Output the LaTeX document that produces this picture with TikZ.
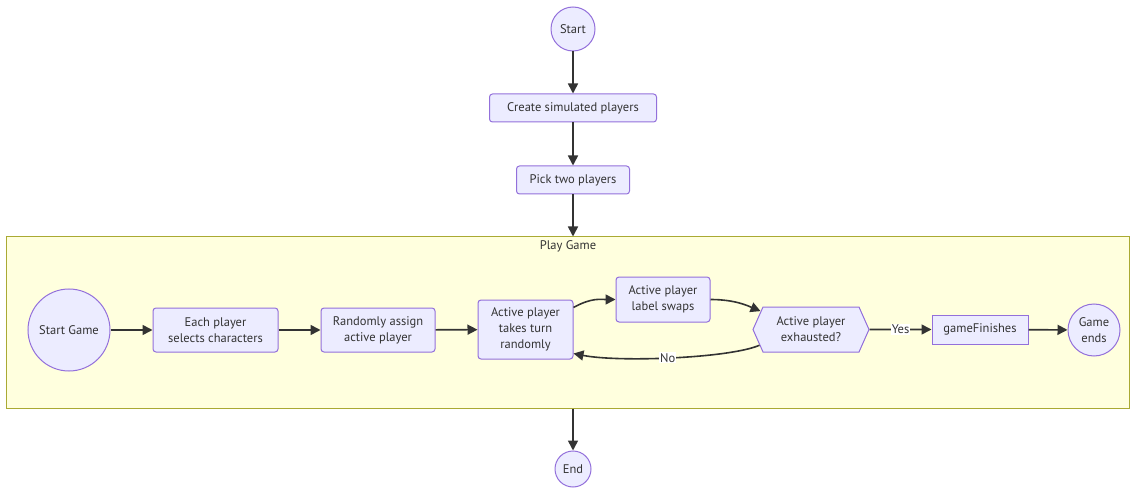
\documentclass[tikz,border=0pt]{standalone}
\usepackage{fontspec}
\setmainfont{PT Sans}
\usetikzlibrary{arrows.meta,calc,shapes.symbols}
\definecolor{boxfill}{HTML}{ECECFF}
\definecolor{boxline}{HTML}{9370DB}
\definecolor{grpfill}{HTML}{FFFFDE}
\definecolor{grpline}{HTML}{AAAA33}
\definecolor{ink}{HTML}{333333}

\begin{document}
\begin{tikzpicture}[x=1pt, y=-1pt]
                \tikzstyle{txt}      = [text=ink, align=center, font=\fontsize{12.5}{16}\selectfont]
                \tikzstyle{proc}     = [txt, rectangle, rounded corners=3pt, draw=boxline, fill=boxfill, line width=1pt, inner sep=0pt]
                \tikzstyle{term}     = [txt, circle, draw=boxline, fill=boxfill, line width=1pt, inner sep=0pt]
                \tikzstyle{decision} = [txt, signal, signal to=west and east, signal pointer angle=132, draw=boxline, fill=boxfill, line width=1pt, inner sep=0pt]
                \tikzstyle{grp}      = [rectangle, draw=grpline, fill=grpfill, line width=1pt, inner sep=0pt]
                \tikzstyle{flow}     = [draw=ink, line width=1.6pt, -{Triangle[length=10pt, width=10pt]}]
                \tikzstyle{lbl}      = [txt, fill=white, inner sep=1pt]
                \useasboundingbox (0,0) rectangle (1130,489);
                \node [term, minimum size=44](start) at (573, 29) {Start};
                \node [proc, minimum width=167, minimum height=28](create) at (573, 108) {Create simulated players};
                \node [proc, minimum width=113, minimum height=28](pick) at (573, 180) {Pick two players};
                \node [grp, minimum width=1123, minimum height=171](play) at (567.5, 322.5) {};
                \node [txt](playlbl) at (568, 246) {Play Game};
                \node [term, minimum size=82](sgame) at (69, 330) {Start Game};
                \node [proc, minimum width=125, minimum height=44](select) at (215.5, 330) {Each player\\selects characters};
                \node [proc, minimum width=114, minimum height=44](assign) at (378, 330) {Randomly assign\\active player};
                \node [proc, minimum width=95, minimum height=59](turn) at (525.5, 329.5) {Active player\\takes turn\\randomly};
                \node [proc, minimum width=94, minimum height=45](swap) at (663, 299.5) {Active player\\label swaps};
                \node [decision, minimum width=116, minimum height=45](exhaust) at (811, 329.5) {Active player\\exhausted?};
                \node [proc, rounded corners=0pt, minimum width=96, minimum height=29](finish) at (980, 329.5) {gameFinishes};
                \node [term, minimum size=52](gend) at (1094, 330) {Game\\ends};
                \node [term, minimum size=36](end) at (573, 469) {End};
                %%Edges
                \draw [flow] (start)--(create);
                \draw [flow] (create)--(pick);
                \draw [flow] (pick)--(pick.south |- play.north);
                \draw [flow] (play.south -| end)--(end);
                \draw [flow] (sgame)--(select);
                \draw [flow] (select)--(assign);
                \draw [flow] (assign)--(turn);
                \draw [flow] ($(turn.north east) + (0, 8)$) .. controls ($(turn.north east) + (18, -2)$) and ($(swap.west) + (-15, 0)$) .. (swap.west);
                \draw [flow] (swap.east) .. controls ($(swap.east) + (25, 0)$) and ($(exhaust.160) + (-12, -5)$) .. (exhaust.160);
                \draw [flow] (exhaust.197) .. controls ($(exhaust.197) + (-30, 13)$) and ($(turn.south east) + (45, 3)$) .. node [lbl, pos=0.52] {No} ($(turn.south east) + (0, -6)$);
                \draw [flow] (exhaust)-- node [lbl] {Yes} (finish);
                \draw [flow] (finish)--(gend);
 \end{tikzpicture}
\end{document}
